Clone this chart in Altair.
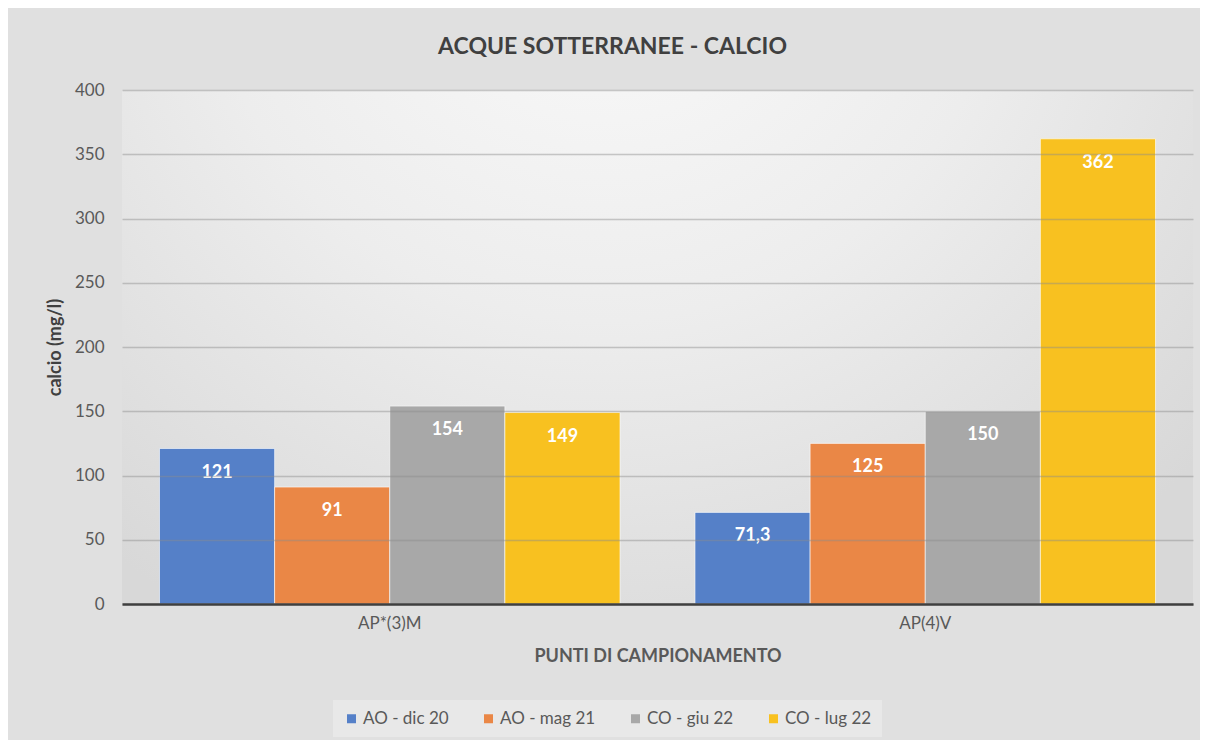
import altair as alt
import pandas as pd

points = ["AP*(3)M", "AP(4)V"]
series = ["AO - dic 20", "AO - mag 21", "CO - giu 22", "CO - lug 22"]
dic20 = [121, 71.3]
mag21 = [91, 125]
giu22 = [154, 150]
lug22 = [149, 362]
colors = ["#5580C8", "#EA8746", "#A8A8A8", "#F8C120"]
y_ticks = [0, 50, 100, 150, 200, 250, 300, 350, 400]

rows = []
for s, vals in zip(series, [dic20, mag21, giu22, lug22]):
    for p, v in zip(points, vals):
        rows.append({"punto": p, "serie": s, "calcio": v})
df = pd.DataFrame(rows)

FONT = "Lato"
GREY = "#595959"

base = alt.Chart(df).transform_calculate(
    lab="replace(format(datum.calcio, '~g'), '.', ',')"
).encode(
    x=alt.X(
        "punto:N",
        sort=points,
        scale=alt.Scale(paddingInner=0.14, paddingOuter=0.07),
        axis=alt.Axis(
            title="PUNTI DI CAMPIONAMENTO",
            labelAngle=0,
            ticks=False,
            labelPadding=11,
            labelFontSize=17,
            labelColor=GREY,
            labelFont=FONT,
            titleFont=FONT,
            titleFontSize=18,
            titleFontWeight="bold",
            titleColor=GREY,
            titlePadding=16,
            domainColor="#3f3f3f",
            domainWidth=2.5,
            zindex=1,
        ),
    ),
    xOffset=alt.XOffset("serie:N", sort=series, scale=alt.Scale(paddingInner=0, paddingOuter=0)),
    y=alt.Y(
        "calcio:Q",
        scale=alt.Scale(domain=[0, 400]),
        axis=alt.Axis(
            title="calcio (mg/l)",
            values=y_ticks,
            ticks=False,
            domain=False,
            labelPadding=18,
            labelFontSize=17,
            labelColor=GREY,
            labelFont=FONT,
            titleFont=FONT,
            titleFontSize=18,
            titleFontWeight="bold",
            titleColor="#404040",
            titlePadding=10,
            gridColor="#8c8c8c",
            gridOpacity=0.45,
            gridWidth=1.5,
            zindex=1,
        ),
    ),
)

backdrop = alt.Chart(pd.DataFrame({"k": [0]})).mark_rect(
    fill=alt.RadialGradient(
        gradient="radial",
        stops=[
            alt.GradientStop(color="#fbfbfb", offset=0),
            alt.GradientStop(color="#ededed", offset=0.5),
            alt.GradientStop(color="#d8d8d8", offset=1),
        ],
        x1=0.45, y1=0.1, x2=0.45, y2=0.1, r1=0, r2=0.75,
    )
).encode(
    x=alt.value(0), x2=alt.value("width"), y=alt.value(0), y2=alt.value("height")
)

bars = base.mark_bar(stroke="white", strokeWidth=1, strokeOpacity=0.6).encode(
    color=alt.Color(
        "serie:N",
        sort=series,
        scale=alt.Scale(domain=series, range=colors),
        legend=alt.Legend(
            title=None,
            orient="none",
            legendX=211,
            legendY=610,
            direction="horizontal",
            columns=4,
            symbolType="square",
            symbolSize=81,
            symbolStrokeWidth=0,
            labelFontSize=17,
            labelFont=FONT,
            labelColor=GREY,
            labelOffset=3,
            columnPadding=31,
            fillColor="#e8e8e8",
            padding=10,
        ),
    )
)

labels = base.mark_text(
    dy=24, color="white", fontWeight="bold", fontSize=18, font=FONT, baseline="middle"
).encode(text="lab:N")

chart = (
    alt.layer(backdrop, bars, labels)
    .properties(
        width=1071,
        height=514,
        title=alt.TitleParams(
            "ACQUE SOTTERRANEE - CALCIO",
            fontSize=23,
            font=FONT,
            fontWeight="bold",
            color="#404040",
            anchor="middle",
            dx=-45,
            offset=22,
        ),
        autosize=alt.AutoSizeParams(type="none"),
        padding={"left": 114, "top": 82, "right": 7, "bottom": 136},
    )
    .configure(background="#e0e0e0")
    .configure_view(stroke="transparent")
)

chart.save("out.html", embed_options={"renderer": "svg", "actions": False})
